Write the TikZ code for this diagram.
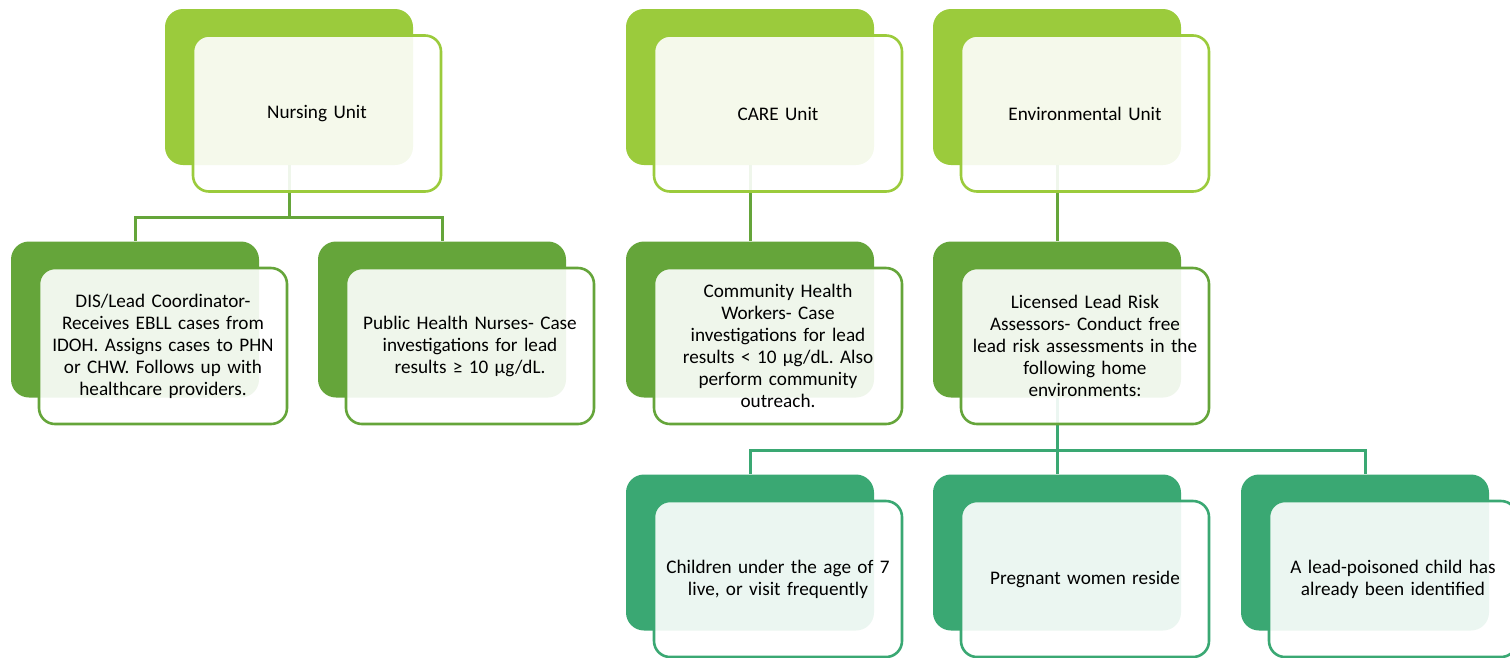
\documentclass[tikz,border=0pt]{standalone}
\usepackage{fontspec}
\setmainfont{Carlito}
\usetikzlibrary{positioning,calc}
\usepackage{xcolor}
\definecolor{unitgreen}{HTML}{9BCB3C}
\definecolor{staffgreen}{HTML}{65A53A}
\definecolor{homegreen}{HTML}{3AA873}

\tikzset{
  backbox/.style={rectangle, rounded corners=18pt, minimum width=248pt, minimum height=156pt, inner sep=0pt, fill=#1},
  frontbox/.style={rectangle, rounded corners=16pt, minimum width=248pt, minimum height=156pt, inner sep=0pt,
    draw=#1, line width=2.6pt, fill=white, fill opacity=0.9, text opacity=1,
    align=center, text width=236pt, font=\fontsize{19.2}{22}\selectfont},
  link/.style={draw=#1, line width=3pt},
  over/.style={shift={(28,26.5)}}
}

\begin{document}
\begin{tikzpicture}[x=1pt, y=-1pt]
  \useasboundingbox (0,0) rectangle (1510,657);
  \clip (0,0) rectangle (1510,657);

  % back boxes
  \node[backbox=unitgreen] (nu) at (289,87) {};
  \node[backbox=unitgreen] (care) at (750,87) {};
  \node[backbox=unitgreen] (env) at (1057,87) {};
  \node[backbox=staffgreen] (dis) at (135,319.5) {};
  \node[backbox=staffgreen] (phn) at (442,319.5) {};
  \node[backbox=staffgreen] (chw) at (750,319.5) {};
  \node[backbox=staffgreen] (lra) at (1057,319.5) {};
  \node[backbox=homegreen] (kids) at (750,552.5) {};
  \node[backbox=homegreen] (preg) at (1057,552.5) {};
  \node[backbox=homegreen] (poison) at (1365,552.5) {};

  % connectors
  \draw[link=staffgreen] (nu.south) -- ++(0,52) -| (dis.north);
  \draw[link=staffgreen] (nu.south) -- ++(0,52) -| (phn.north);
  \draw[link=staffgreen] (care.south) -- (chw.north);
  \draw[link=staffgreen] (env.south) -- (lra.north);
  \draw[link=homegreen] (lra.south) -- ++(0,53) -| (kids.north);
  \draw[link=homegreen] (lra.south) -- (preg.north);
  \draw[link=homegreen] (lra.south) -- ++(0,53) -| (poison.north);

  % front boxes
  \node[frontbox=unitgreen] (nuF) at ([over]nu.center) {Nursing Unit};
  \node[frontbox=unitgreen] (careF) at ([over]care.center) {CARE Unit};
  \node[frontbox=unitgreen] (envF) at ([over]env.center) {Environmental Unit};
  \node[frontbox=staffgreen] (disF) at ([over]dis.center)
    {DIS/Lead Coordinator-\\Receives EBLL cases from\\IDOH. Assigns cases to PHN\\or CHW. Follows up with\\healthcare providers.};
  \node[frontbox=staffgreen] (phnF) at ([over]phn.center)
    {Public Health Nurses- Case\\investigations for lead\\results ≥ 10 µg/dL.};
  \node[frontbox=staffgreen] (chwF) at ([over]chw.center)
    {Community Health\\Workers- Case\\investigations for lead\\results < 10 µg/dL. Also\\perform community\\outreach.};
  \node[frontbox=staffgreen] (lraF) at ([over]lra.center)
    {Licensed Lead Risk\\Assessors- Conduct free\\lead risk assessments in the\\following home\\environments:};
  \node[frontbox=homegreen] (kidsF) at ([over]kids.center)
    {Children under the age of 7\\live, or visit frequently};
  \node[frontbox=homegreen] (pregF) at ([over]preg.center) {Pregnant women reside};
  \node[frontbox=homegreen] (poisonF) at ([over]poison.center)
    {A lead-poisoned child has\\already been identified};
\end{tikzpicture}
\end{document}
